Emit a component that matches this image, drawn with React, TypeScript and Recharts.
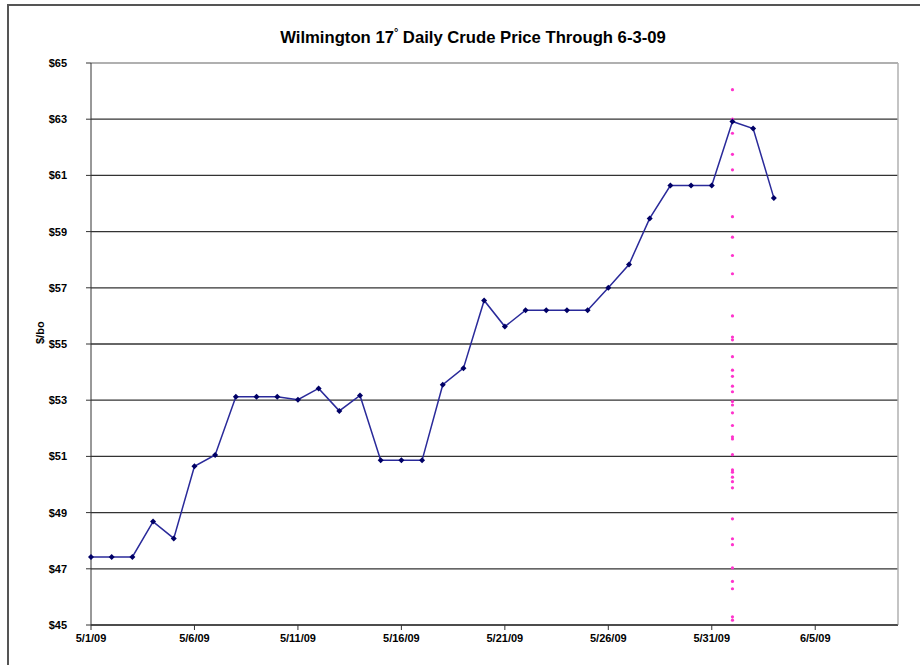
import {
  ComposedChart,
  Line,
  Scatter,
  XAxis,
  YAxis,
  CartesianGrid,
  ReferenceLine,
} from "recharts";

// day index from 5/1/09
const days = [
  0, 1, 2, 3, 4, 5, 6, 7, 8, 9, 10, 11, 12, 13, 14, 15, 16,
  17, 18, 19, 20, 21, 22, 23, 24, 25, 26, 27, 28, 29, 30, 31, 32, 33,
];
const prices = [
  47.42, 47.42, 47.42, 48.68, 48.08, 50.65, 51.05, 53.12, 53.12, 53.12,
  53.02, 53.42, 52.62, 53.17, 50.86, 50.86, 50.86, 53.55, 54.14, 56.55,
  55.62, 56.2, 56.2, 56.2, 56.2, 57.0, 57.83, 59.47, 60.64, 60.64, 60.64,
  62.92, 62.67, 60.2,
];

// pink marker column on 6/1/09
const markerDay = 31;
const markerValues = [
  64.05, 63.0, 62.5, 61.75, 61.2, 59.53, 58.8, 58.15, 57.5, 56.0, 55.25,
  55.15, 54.55, 54.07, 53.85, 53.5, 53.3, 52.95, 52.83, 52.55, 52.1, 51.7,
  51.62, 51.06, 50.52, 50.44, 50.26, 50.1, 49.88, 48.78, 48.07, 47.86,
  47.03, 46.55, 46.29, 45.29, 45.17,
];

const yTicks = [45, 47, 49, 51, 53, 55, 57, 59, 61, 63, 65];
const xTicks = [0, 5, 10, 15, 20, 25, 30, 35];
const xTickLabels = [
  "5/1/09", "5/6/09", "5/11/09", "5/16/09", "5/21/09", "5/26/09", "5/31/09", "6/5/09",
];

const priceData = days.map((d, i) => ({ day: d, price: prices[i] }));
const markerData = markerValues.map((v) => ({ day: markerDay, price: v }));

const font = "'Liberation Sans', Arial, sans-serif";

const Diamond = (props: any) => {
  const { cx, cy } = props;
  if (cx == null || cy == null) return null;
  return (
    <path
      d={`M${cx},${cy - 3} L${cx + 3},${cy} L${cx},${cy + 3} L${cx - 3},${cy} Z`}
      fill="#000066"
    />
  );
};

const PinkDot = (props: any) => {
  const { cx, cy } = props;
  if (cx == null || cy == null) return null;
  return <circle cx={cx} cy={cy} r={1.6} fill="#ff33cc" />;
};

const App = () => {
  return (
    <div style={{ position: "absolute", left: 0, top: 0, width: 920, height: 665, background: "#fff" }}>
      <div
        style={{
          position: "absolute",
          left: 7,
          top: 4,
          width: 920,
          height: 670,
          borderLeft: "2px solid #555",
          borderTop: "2px solid #555",
        }}
      />
      <div
        style={{
          position: "absolute",
          left: 0,
          top: 26,
          width: 946,
          textAlign: "center",
          fontFamily: font,
          fontWeight: "bold",
          fontSize: 17,
          color: "#000",
          transform: "scaleX(0.98)",
        }}
      >
        Wilmington 17<sup style={{ fontSize: 11 }}>°</sup> Daily Crude Price Through 6-3-09
      </div>
      <div style={{ position: "absolute", left: 0, top: 0 }}>
        <ComposedChart
          width={920}
          height={665}
          margin={{ top: 63, right: 22, bottom: 10, left: 0 }}
        >
          <CartesianGrid vertical={false} stroke="#333" strokeWidth={1.3} />
          <ReferenceLine y={65} stroke="#b0b0b0" strokeWidth={2} />
          <ReferenceLine x={39} stroke="#b0b0b0" strokeWidth={1.5} />
          <XAxis
            type="number"
            dataKey="day"
            domain={[0, 39]}
            ticks={xTicks}
            tickFormatter={(v: number) => xTickLabels[xTicks.indexOf(v)]}
            tickSize={5}
            tickMargin={4}
            height={30}
            stroke="#333"
            tick={{ fill: "#000", fontFamily: font, fontWeight: "bold", fontSize: 11 }}
            allowDecimals={false}
          />
          <YAxis
            type="number"
            domain={[45, 65]}
            ticks={yTicks}
            width={91}
            tickSize={5}
            tickMargin={19}
            stroke="#333"
            tickFormatter={(v: number) => `$${v}`}
            tick={{ fill: "#000", fontFamily: font, fontWeight: "bold", fontSize: 11 }}
            label={{
              value: "$/bo",
              angle: -90,
              position: "insideLeft",
              offset: 40,
              style: { fontFamily: font, fontWeight: "bold", fontSize: 11, fill: "#000" },
            }}
          />
          <Scatter
            data={markerData}
            dataKey="price"
            shape={<PinkDot />}
            isAnimationActive={false}
          />
          <Line
            data={priceData}
            dataKey="price"
            type="linear"
            stroke="#2a2a9a"
            strokeWidth={1.5}
            dot={<Diamond />}
            activeDot={false}
            isAnimationActive={false}
          />
        </ComposedChart>
      </div>
    </div>
  );
};

export default App;
